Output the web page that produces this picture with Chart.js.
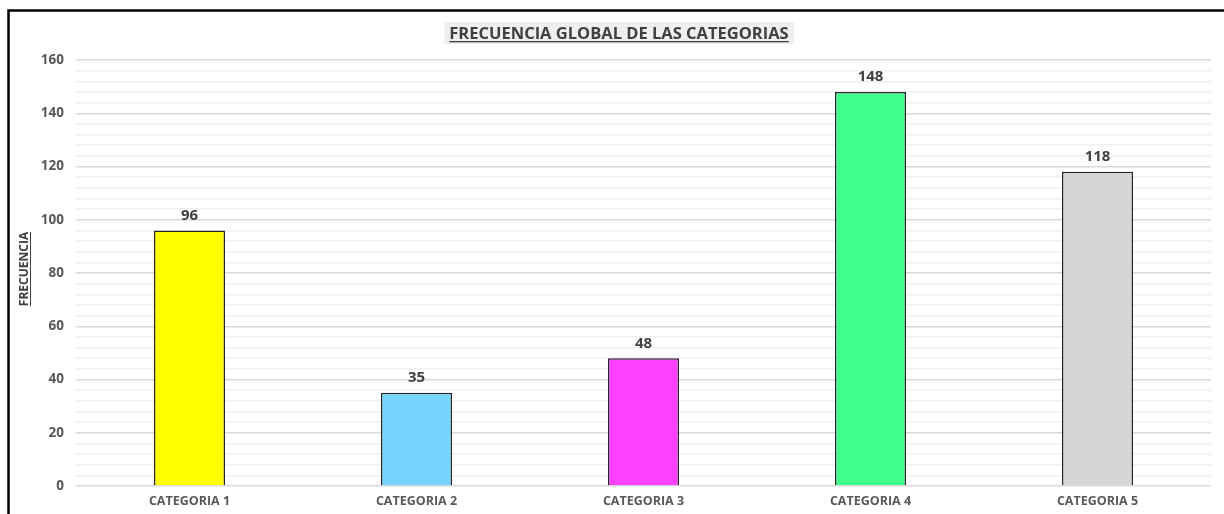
<!DOCTYPE html>
<html><head><meta charset="utf-8">
<script src="https://cdn.jsdelivr.net/npm/chart.js@4"></script>
<style>html,body{margin:0;padding:0;background:#fff}#wrap{width:1224px;height:514px;position:relative}</style>
</head><body><div id="wrap"><canvas id="c" width="1224" height="514"></canvas></div>
<script>
const categories = ['CATEGORIA 1','CATEGORIA 2','CATEGORIA 3','CATEGORIA 4','CATEGORIA 5'];
const values = [96, 35, 48, 148, 118];
const barColors = ['#FFFF00','#75D5FF','#FF40FF','#40FF8A','#D6D6D6'];
const yTicks = [0, 20, 40, 60, 80, 100, 120, 140, 160];
const chartTitle = 'FRECUENCIA GLOBAL DE LAS CATEGORIAS';
const yTitle = 'FRECUENCIA';
const FONT = "'Open Sans', sans-serif";

const deco = {
  id: 'deco',
  beforeDraw(chart) {
    const ctx = chart.ctx;
    ctx.save();
    ctx.fillStyle = '#fff';
    ctx.fillRect(0, 0, chart.width, chart.height);
    ctx.restore();
  },
  afterDraw(chart) {
    const ctx = chart.ctx;
    ctx.save();
    // frame
    ctx.strokeStyle = '#000';
    ctx.lineWidth = 2.5;
    ctx.beginPath();
    ctx.moveTo(8.5, 514);
    ctx.lineTo(8.5, 10.5);
    ctx.lineTo(1224, 10.5);
    ctx.stroke();
    // title
    ctx.font = "bold 16.5px " + FONT;
    const w = ctx.measureText(chartTitle).width;
    const cx = 619;
    ctx.fillStyle = '#efefef';
    ctx.fillRect(cx - w/2 - 5, 22, w + 10, 22);
    ctx.fillStyle = '#404040';
    ctx.textAlign = 'center';
    ctx.textBaseline = 'alphabetic';
    ctx.fillText(chartTitle, cx, 39);
    ctx.fillRect(cx - w/2, 41, w, 1.3);
    // y title
    ctx.font = "bold 12px " + FONT;
    const tw = ctx.measureText(yTitle).width;
    ctx.translate(28, 269);
    ctx.rotate(-Math.PI/2);
    ctx.fillStyle = '#404040';
    ctx.fillText(yTitle, 0, 0);
    ctx.fillRect(-tw/2, 2, tw, 1);
    ctx.restore();
    // data labels
    const meta = chart.getDatasetMeta(0);
    ctx.save();
    ctx.font = "bold 15px " + FONT;
    ctx.fillStyle = '#404040';
    ctx.textAlign = 'center';
    ctx.textBaseline = 'alphabetic';
    meta.data.forEach((bar, i) => {
      ctx.fillText(String(values[i]), bar.x, bar.y - 10.5);
    });
    ctx.restore();
  }
};

new Chart(document.getElementById('c'), {
  type: 'bar',
  data: {
    labels: categories,
    datasets: [{
      data: values,
      backgroundColor: barColors,
      borderColor: '#262626',
      borderWidth: 1.5,
      categoryPercentage: 1,
      barPercentage: 0.313
    }]
  },
  options: {
    responsive: false,
    animation: false,
    devicePixelRatio: 1,
    layout: { padding: { left: 0, right: 13, top: 60, bottom: 0 } },
    plugins: { legend: { display: false }, title: { display: false }, tooltip: { enabled: false } },
    scales: {
      x: {
        grid: { display: false, drawTicks: false },
        border: { display: false },
        ticks: { color: '#595959', font: { family: FONT, weight: 'bold', size: 12.5 }, padding: 8, maxRotation: 0 },
        afterFit(s) { s.height = 28; }
      },
      y: {
        min: 0, max: 160,
        border: { display: false },
        afterBuildTicks(s) {
          const t = [];
          for (let v = 0; v <= 160; v += 4) t.push({ value: v });
          s.ticks = t;
        },
        grid: {
          drawTicks: false,
          color: (c) => (c.tick && yTicks.includes(c.tick.value)) ? '#d9d9d9' : '#f0f0f0',
          lineWidth: 1.5
        },
        ticks: {
          autoSkip: false,
          padding: 12,
          color: '#595959',
          font: { family: FONT, weight: 'bold', size: 13.5 },
          callback: (v) => yTicks.includes(v) ? String(v) : ''
        },
        afterFit(s) { s.width = 76; }
      }
    }
  },
  plugins: [deco]
});
</script></body></html>
